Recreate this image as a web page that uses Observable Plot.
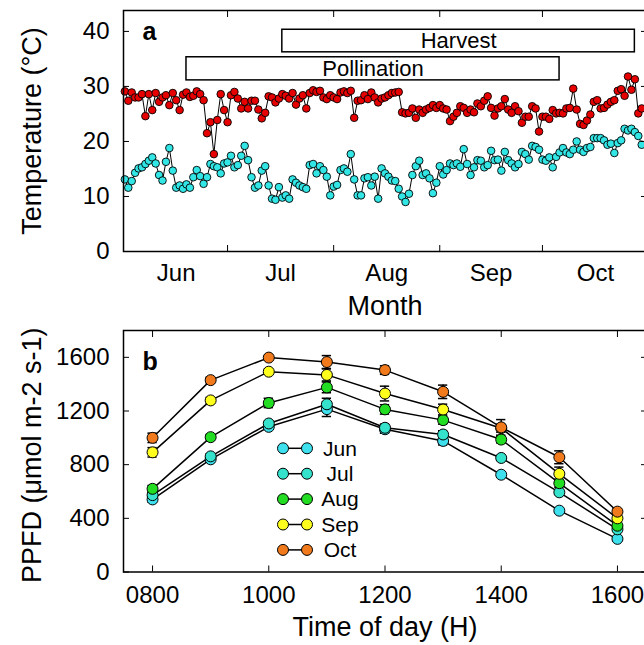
<!DOCTYPE html>
<html><head><meta charset="utf-8">
<script src="https://cdn.jsdelivr.net/npm/d3@7"></script>
<script src="https://cdn.jsdelivr.net/npm/@observablehq/plot@0.6"></script>
<style>
html,body{margin:0;padding:0;background:#fff;overflow:hidden;width:644px;height:645px}
#chart svg{display:block}
</style></head><body><div id="chart"></div>
<script>
// ---------- Panel a: daily max / min temperature (1 Jun – 30 Oct) ----------
const tMax = [
  29.1, 27.4, 28.9, 28.0, 28.0, 28.6, 24.6, 28.6, 25.7, 28.8,
  27.2, 28.0, 28.4, 26.6, 28.8, 27.5, 25.7, 28.5, 28.9, 28.1,
  28.3, 29.1, 28.6, 27.5, 21.5, 23.5, 17.7, 23.9, 28.6, 25.7,
  23.5, 28.4, 29.0, 27.8, 26.0, 27.2, 26.0, 27.4,
  27.4, 25.8, 24.2, 25.2, 28.2, 28.0, 27.1, 27.8, 28.6, 28.3,
  27.8, 28.8, 26.7, 27.8, 28.4, 26.0, 28.8, 29.3, 29.0, 29.2,
  28.0, 27.7, 28.4, 28.0, 27.7, 28.9, 29.1, 28.8, 29.2, 24.3,
  27.4, 27.5, 28.4, 27.7, 28.9, 28.0, 27.1, 27.8,
  28.0, 28.4, 28.8, 28.9, 29.0, 25.3, 25.1, 25.2, 26.0, 24.3,
  25.8, 25.2, 25.8, 26.1, 26.6, 26.1, 26.6, 26.0, 25.8, 23.7,
  24.5, 25.2, 26.4, 26.1, 25.2, 25.8, 25.3, 26.9, 26.4, 27.4,
  28.2, 26.1, 24.7, 26.0, 26.4, 27.7, 25.8, 25.2,
  26.4, 25.5, 23.4, 24.5, 24.5, 26.4, 26.0, 21.8, 24.5, 24.5,
  24.1, 25.7, 25.1, 25.2, 25.1, 26.0, 26.1, 29.6, 25.8, 23.2,
  23.0, 23.8, 24.9, 27.2, 27.5, 26.0, 26.1, 26.7, 27.2, 27.5,
  29.2, 29.5, 28.3, 31.8, 29.4, 31.3, 25.1, 26.0
];
const tMin = [
  13.1, 11.6, 12.8, 14.3, 15.1, 15.3, 15.9, 16.5, 17.1, 16.0,
  13.9, 12.9, 16.3, 18.8, 14.7, 11.6, 12.0, 11.4, 12.2, 11.6,
  13.5, 14.8, 13.7, 12.3, 13.5, 15.9, 15.5, 15.3, 14.2, 16.0,
  16.2, 17.4, 15.3, 15.7, 17.4, 19.2, 16.6, 13.5,
  11.6, 12.0, 14.7, 15.5, 12.0, 9.6, 9.4, 11.7, 9.8, 10.2,
  9.6, 13.1, 12.5, 12.0, 11.7, 11.4, 15.7, 15.9, 14.2, 15.5,
  14.8, 13.6, 10.2, 11.8, 12.1, 14.8, 15.1, 14.5, 17.7, 13.1,
  10.2, 10.2, 13.3, 13.5, 12.0, 13.6, 9.6, 15.1,
  14.2, 13.6, 12.9, 12.8, 11.4, 10.0, 9.0, 10.5, 13.9, 15.5,
  16.5, 13.9, 14.2, 13.3, 10.6, 12.5, 15.5, 14.0, 14.8, 16.0,
  15.7, 16.0, 15.4, 18.6, 15.9, 13.9, 15.3, 16.6, 16.5, 15.3,
  15.7, 18.3, 16.6, 16.7, 14.7, 18.1, 16.6, 16.0,
  15.3, 15.9, 18.1, 17.7, 16.7, 19.2, 19.0, 18.5, 16.7, 16.5,
  17.1, 15.3, 17.2, 18.0, 18.8, 18.0, 17.7, 18.5, 20.0, 18.5,
  18.1, 18.8, 19.0, 20.6, 20.6, 20.6, 20.2, 19.4, 19.6, 17.9,
  19.7, 20.2, 22.3, 22.0, 22.3, 21.7, 21.0, 19.4
];
const firstDay = "2014-06-01";
const monthLabels = ["Jun", "Jul", "Aug", "Sep", "Oct"];
const monthStarts = ["2014-06-01", "2014-07-01", "2014-08-01", "2014-09-01", "2014-10-01", "2014-11-01"];
const tempTicks = [0, 10, 20, 30, 40];
const periodLabels = ["Harvest", "Pollination"];
const periodStart = ["2014-07-17", "2014-06-19"];
const periodEnd = ["2014-10-28", "2014-10-06"];
const periodLow = [36.2, 31.1];
const periodHigh = [40.3, 35.3];

// ---------- Panel b: PPFD by time of day ----------
const hours = [800, 900, 1000, 1100, 1200, 1300, 1400, 1500, 1600];
const hourTicks = [800, 1000, 1200, 1400, 1600];
const ppfdTicks = [0, 400, 800, 1200, 1600];
const months = ["Jun", "Jul", "Aug", "Sep", "Oct"];
const ppfdJun = [541, 840, 1082, 1214, 1064, 977, 725, 457, 247];
const ppfdJul = [573, 862, 1107, 1250, 1075, 1025, 850, 594, 318];
const ppfdAug = [620, 1005, 1260, 1376, 1212, 1132, 987, 662, 345];
const ppfdSep = [892, 1279, 1493, 1469, 1330, 1211, 1072, 732, 400];
const ppfdOct = [1000, 1430, 1598, 1565, 1505, 1343, 1078, 855, 450];
const errJun = [20, 18, 15, 55, 30, 30, 18, 15, 12];
const errJul = [20, 18, 15, 45, 28, 28, 18, 15, 12];
const errAug = [25, 20, 35, 40, 35, 30, 25, 30, 18];
const errSep = [35, 22, 18, 45, 55, 40, 30, 50, 20];
const errOct = [35, 22, 15, 48, 32, 50, 58, 48, 20];
const monthColors = ["#3fe0ee", "#35e2cc", "#22dd22", "#ffff1e", "#f07a1c"];

const FONT = '"Liberation Sans", Arial, Helvetica, sans-serif';
const baseStyle = {fontFamily: FONT, background: "white", color: "black", maxWidth: "none"};

// ---------- build panel a ----------
const DAY = 864e5;
const t0 = +new Date(firstDay);
const daily = tMax.map((v, i) => ({date: new Date(t0 + i * DAY), max: v, min: tMin[i]}));
const starts = monthStarts.map(s => new Date(s));
const mids = monthLabels.map((m, i) => new Date((+starts[i] + +starts[i + 1]) / 2));
const periods = periodLabels.map((l, i) => ({
  label: l, start: new Date(periodStart[i]), end: new Date(periodEnd[i]), lo: periodLow[i], hi: periodHigh[i]
}));

const plotA = Plot.plot({
  width: 650, height: 320,
  marginLeft: 123, marginRight: 4, marginTop: 10, marginBottom: 69,
  style: baseStyle,
  x: {type: "utc", domain: [new Date(t0 - 0.4 * DAY), new Date(t0 + 152.4 * DAY)], label: null},
  y: {domain: [0, 43.8], label: null},
  marks: [
    Plot.rect(periods, {x1: "start", x2: "end", y1: "lo", y2: "hi", fill: "white", stroke: "black", strokeWidth: 1.5}),
    Plot.text(periods, {x: d => new Date((+d.start + +d.end) / 2), y: d => (d.lo + d.hi) / 2, text: "label", fontSize: 22}),
    Plot.line(daily, {x: "date", y: "max", stroke: "black", strokeWidth: 1}),
    Plot.line(daily, {x: "date", y: "min", stroke: "black", strokeWidth: 1}),
    Plot.dot(daily, {x: "date", y: "max", r: 3.8, fill: "#e60000", stroke: "black", strokeWidth: 0.9}),
    Plot.dot(daily, {x: "date", y: "min", r: 3.8, fill: "#33e6e6", stroke: "black", strokeWidth: 0.9}),
    Plot.axisY(tempTicks, {anchor: "left", tickSize: 0, tickPadding: 14, fontSize: 24}),
    Plot.axisY(tempTicks, {anchor: "left", tickSize: 6, dx: 6, tickFormat: () => ""}),
    Plot.axisY(tempTicks, {anchor: "right", tickSize: 6, dx: -6, tickFormat: () => ""}),
    Plot.axisX(mids, {anchor: "bottom", tickSize: 0, tickPadding: 12, fontSize: 24,
      tickFormat: d => monthLabels[mids.findIndex(m => +m === +d)]}),
    Plot.axisX(starts.slice(1, 5), {anchor: "bottom", tickSize: 6, dy: -6, tickFormat: () => ""}),
    Plot.axisX(starts.slice(1, 5), {anchor: "top", tickSize: 6, dy: 6, tickFormat: () => ""}),
    Plot.text(["Temperature (°C)"], {frameAnchor: "left", textAnchor: "middle", lineAnchor: "middle", dx: -91, rotate: -90, fontSize: 27}),
    Plot.text(["Month"], {frameAnchor: "bottom", lineAnchor: "middle", dy: 55, fontSize: 27}),
    Plot.text(["a"], {frameAnchor: "top-left", lineAnchor: "middle", dx: 19, dy: 21, fontSize: 25, fontWeight: "bold", textAnchor: "start"}),
    Plot.frame({stroke: "black", strokeWidth: 1.5})
  ]
});

// ---------- build panel b ----------
const series = [ppfdJun, ppfdJul, ppfdAug, ppfdSep, ppfdOct];
const errs = [errJun, errJul, errAug, errSep, errOct];
const rows = months.flatMap((m, k) => hours.map((h, i) => ({month: m, t: h, v: series[k][i], e: errs[k][i]})));

const plotB = Plot.plot({
  width: 650, height: 325,
  marginLeft: 123, marginRight: 4, marginTop: 10, marginBottom: 73.5,
  style: baseStyle,
  x: {domain: [750, 1650], label: null},
  y: {domain: [0, 1800], label: null},
  color: {domain: months, range: monthColors},
  marks: [
    Plot.line(rows, {x: "t", y: "v", z: "month", stroke: "black", strokeWidth: 1.5}),
    Plot.ruleX(rows, {x: "t", y1: d => d.v - d.e, y2: d => d.v + d.e, stroke: "black", strokeWidth: 1.5}),
    Plot.ruleY(rows, {y: d => d.v + d.e, x1: d => d.t - 8, x2: d => d.t + 8, stroke: "black", strokeWidth: 1.5}),
    Plot.ruleY(rows, {y: d => d.v - d.e, x1: d => d.t - 8, x2: d => d.t + 8, stroke: "black", strokeWidth: 1.5}),
    Plot.dot(rows, {x: "t", y: "v", r: 5.5, fill: "month", stroke: "black", strokeWidth: 1}),
    Plot.axisY(ppfdTicks, {anchor: "left", tickSize: 0, tickPadding: 14, fontSize: 24, tickFormat: d3.format("d")}),
    Plot.axisY(ppfdTicks, {anchor: "left", tickSize: 6, dx: 6, tickFormat: () => ""}),
    Plot.axisY(ppfdTicks, {anchor: "right", tickSize: 6, dx: -6, tickFormat: () => ""}),
    Plot.axisX(hourTicks, {anchor: "bottom", tickSize: 0, tickPadding: 14, fontSize: 24, tickFormat: d3.format("04d")}),
    Plot.axisX(hourTicks, {anchor: "bottom", tickSize: 6, dy: -6, tickFormat: () => ""}),
    Plot.axisX(hourTicks, {anchor: "top", tickSize: 6, dy: 6, tickFormat: () => ""}),
    Plot.text(["PPFD (μmol m-2 s-1)"], {frameAnchor: "left", textAnchor: "middle", lineAnchor: "middle", dx: -91, dy: 4, rotate: -90, fontSize: 27}),
    Plot.text(["Time of day (H)"], {frameAnchor: "bottom", lineAnchor: "middle", dy: 55, fontSize: 27}),
    Plot.text(["b"], {frameAnchor: "top-left", lineAnchor: "middle", dx: 19, dy: 31, fontSize: 25, fontWeight: "bold", textAnchor: "start"}),
    Plot.frame({stroke: "black", strokeWidth: 1.5})
  ]
});

// legend inside panel b
const lg = d3.select(plotB).append("g").attr("font-family", FONT);
months.forEach((m, i) => {
  const y = 128.3 + i * 25.4;
  lg.append("line").attr("x1", 283).attr("x2", 307).attr("y1", y).attr("y2", y).attr("stroke", "black").attr("stroke-width", 1.5);
  [283, 307].forEach(x => lg.append("circle").attr("cx", x).attr("cy", y).attr("r", 5.5)
    .attr("fill", monthColors[i]).attr("stroke", "black").attr("stroke-width", 1));
  lg.append("text").attr("x", 340).attr("y", y).attr("dy", "0.35em").attr("font-size", 21).attr("fill", "black").text(m);
});

document.getElementById("chart").append(plotA, plotB);
</script></body></html>
